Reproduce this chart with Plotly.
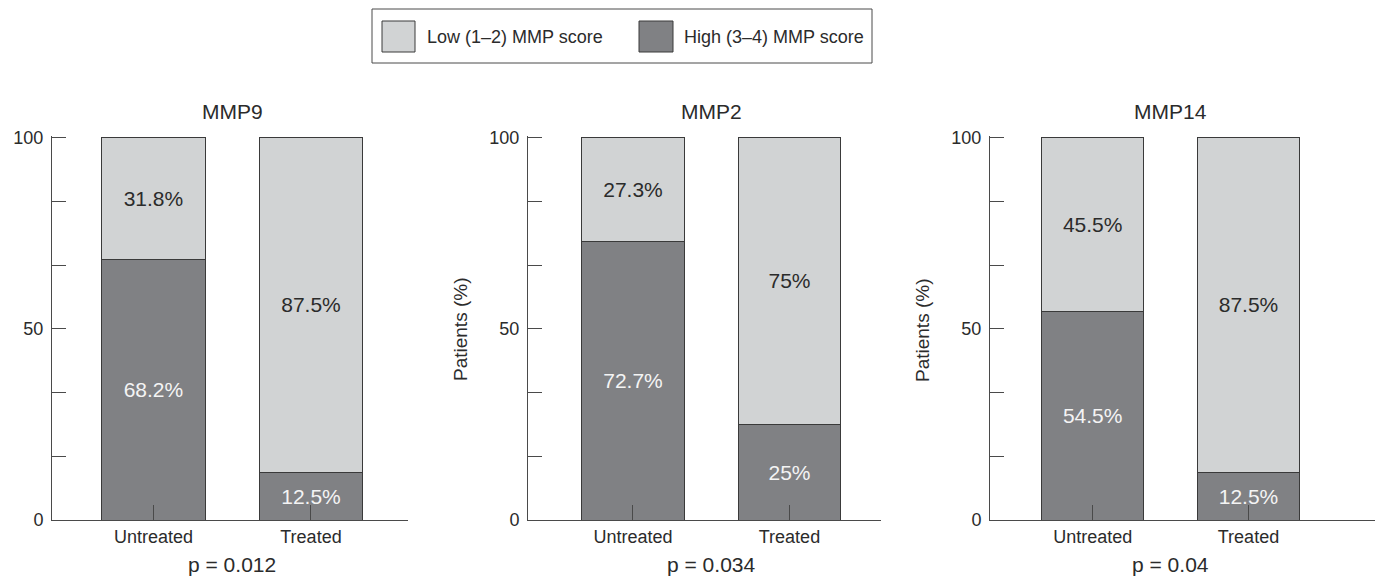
import plotly.graph_objects as go

# ---- data ----
markers = ["MMP9", "MMP2", "MMP14"]
groups = ["Untreated", "Treated"]
high_scores = [[68.2, 12.5], [72.7, 25.0], [54.5, 12.5]]   # High (3-4) MMP score, %
low_scores = [[31.8, 87.5], [27.3, 75.0], [45.5, 87.5]]    # Low (1-2) MMP score, %
low_labels = [["31.8%", "87.5%"], ["27.3%", "75%"], ["45.5%", "87.5%"]]
high_labels = [["68.2%", "12.5%"], ["72.7%", "25%"], ["54.5%", "12.5%"]]
p_values = ["p = 0.012", "p = 0.034", "p = 0.04"]
y_tick_vals = [0, 100 / 6, 200 / 6, 50, 400 / 6, 500 / 6, 100]
y_tick_text = ["0", "", "", "50", "", "", "100"]
legend_names = ["Low (1\u20132) MMP score", "High (3\u20134) MMP score"]
y_title = "Patients (%)"

# ---- style ----
W, H = 1381, 579
LIGHT = "#d1d3d4"
DARK = "#808184"
EDGE = "#3a3a3a"
AXIS = "#4a4a4a"
TXT = "#2b2b2b"
FONT = "Liberation Sans"

def px(x):
    return x / W

def py(y):
    return 1 - y / H

# panel layout (pixel extents of the x axis line) and x ranges
panel_px = [(52, 408), (528, 881), (990, 1375)]
x_ranges = [(-0.644, 1.616), (-0.671, 1.585), (-0.659, 1.812)]
bar_width = 0.655
y_dom = [py(520), py(136)]

fig = go.Figure()
layout = dict(
    width=W, height=H, autosize=False,
    margin=dict(l=0, r=0, t=0, b=0, pad=0, autoexpand=False),
    paper_bgcolor="white", plot_bgcolor="white",
    barmode="stack", showlegend=False,
    font=dict(family=FONT, color=TXT, size=18),
)

annotations = []
shapes = []
for i, name in enumerate(markers):
    sfx = "" if i == 0 else str(i + 1)
    xa, ya = "x" + sfx, "y" + sfx
    fig.add_trace(go.Bar(
        x=[0, 1], y=high_scores[i], xaxis=xa, yaxis=ya, width=bar_width,
        marker=dict(color=DARK, line=dict(color=EDGE, width=1)),
        text=high_labels[i], textposition="inside", insidetextanchor="middle",
        textangle=0, insidetextfont=dict(family=FONT, size=21, color="#f4f4f4"),
        hoverinfo="skip", name=legend_names[1],
    ))
    fig.add_trace(go.Bar(
        x=[0, 1], y=low_scores[i], xaxis=xa, yaxis=ya, width=bar_width,
        marker=dict(color=LIGHT, line=dict(color=EDGE, width=1)),
        text=low_labels[i], textposition="inside", insidetextanchor="middle",
        textangle=0, insidetextfont=dict(family=FONT, size=21, color=TXT),
        hoverinfo="skip", name=legend_names[0],
    ))
    x0, x1 = panel_px[i]
    layout["xaxis" + sfx] = dict(
        domain=[px(x0), px(x1)], anchor=ya, range=list(x_ranges[i]),
        tickvals=[0, 1], ticktext=groups, ticks="inside", ticklen=15,
        tickcolor=AXIS, showline=True, linecolor=AXIS, linewidth=1,
        showgrid=False, zeroline=False, tickfont=dict(size=18, color=TXT),
        fixedrange=True, automargin=False,
    )
    layout["yaxis" + sfx] = dict(
        domain=y_dom, anchor=xa, range=[0, 100.4],
        tickvals=y_tick_vals, ticktext=y_tick_text, ticks="inside", ticklen=14,
        tickcolor=AXIS, showline=True, linecolor=AXIS, linewidth=1,
        showgrid=False, zeroline=False, tickfont=dict(size=18, color=TXT),
        ticklabelstandoff=4, automargin=False,
    )
    # panel title
    annotations.append(dict(
        x=0.5, xref=xa, y=py(111), yref="paper", text=name, showarrow=False,
        font=dict(size=21, color=TXT), xanchor="center", yanchor="middle",
    ))
    # p value
    annotations.append(dict(
        x=0.5, xref=xa, y=py(564), yref="paper", text=p_values[i], showarrow=False,
        font=dict(size=21, color=TXT), xanchor="center", yanchor="middle",
    ))
    if i > 0:
        annotations.append(dict(
            x=px(x0 - 68), xref="paper", y=py(330), yref="paper", text=y_title,
            showarrow=False, textangle=-90, font=dict(size=19, color=TXT),
            xanchor="center", yanchor="middle",
        ))

# manual legend
shapes.append(dict(type="rect", xref="paper", yref="paper",
                   x0=px(372), x1=px(872), y0=py(63), y1=py(9),
                   line=dict(color=AXIS, width=1), fillcolor="white"))
for (sx0, sx1, tx), col, nm in zip([(382, 415, 425), (639, 673, 682)],
                                   [LIGHT, DARK], legend_names):
    shapes.append(dict(type="rect", xref="paper", yref="paper",
                       x0=px(sx0), x1=px(sx1), y0=py(52), y1=py(21),
                       line=dict(color=EDGE, width=1), fillcolor=col))
    annotations.append(dict(x=px(tx), xref="paper", y=py(37), yref="paper",
                            text=nm, showarrow=False, xanchor="left",
                            yanchor="middle", font=dict(size=18, color=TXT)))

layout["annotations"] = annotations
layout["shapes"] = shapes
fig.update_layout(**layout)
fig.write_html(
    "out.html",
    config={"displayModeBar": False},
    post_script="document.body.style.margin='0px';document.body.style.overflow='hidden';",
)
